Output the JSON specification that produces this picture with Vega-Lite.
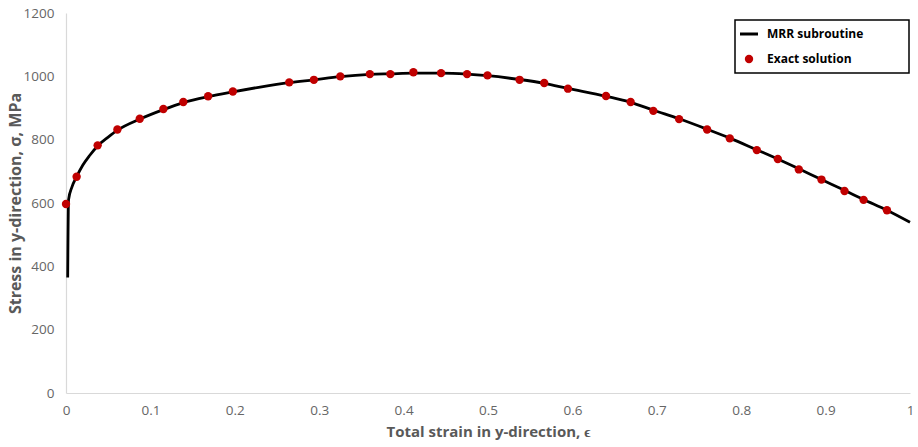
{
  "$schema": "https://vega.github.io/schema/vega-lite/v6.json",
  "width": 844,
  "height": 380,
  "autosize": {"type": "none"},
  "padding": {"left": 66, "top": 13, "right": 8, "bottom": 54},
  "background": "white",
  "config": {
    "view": {"stroke": null},
    "font": "Open Sans",
    "axis": {
      "grid": false,
      "ticks": false,
      "domainColor": "#d9d9d9",
      "domainWidth": 1.2,
      "labelColor": "#666666",
      "labelFontSize": 13.5,
      "labelFont": "Open Sans",
      "labelFlush": false,
      "titleColor": "#595959",
      "titleFont": "Open Sans",
      "titleFontSize": 15,
      "titleFontWeight": "bold"
    },
    "legend": {
      "orient": "none",
      "legendX": 669,
      "legendY": 7,
      "strokeColor": "#000000",
      "padding": 8,
      "rowPadding": 13,
      "labelFont": "Open Sans",
      "labelFontSize": 12,
      "labelFontWeight": "bold",
      "labelColor": "#000000",
      "labelOffset": 12,
      "labelLimit": 300,
      "symbolSize": 70,
      "symbolStrokeWidth": 2.8,
      "symbolOpacity": 1
    }
  },
  "datasets": {
    "mrr": [
      {"strain": 0.002, "stress": 365, "series": "MRR subroutine"},
      {"strain": 0.003, "stress": 610, "series": "MRR subroutine"},
      {"strain": 0.007, "stress": 650, "series": "MRR subroutine"},
      {"strain": 0.0126, "stress": 683, "series": "MRR subroutine"},
      {"strain": 0.02, "stress": 720, "series": "MRR subroutine"},
      {"strain": 0.028, "stress": 750, "series": "MRR subroutine"},
      {"strain": 0.0375, "stress": 780, "series": "MRR subroutine"},
      {"strain": 0.05, "stress": 808, "series": "MRR subroutine"},
      {"strain": 0.061, "stress": 830, "series": "MRR subroutine"},
      {"strain": 0.0874, "stress": 865, "series": "MRR subroutine"},
      {"strain": 0.1154, "stress": 895, "series": "MRR subroutine"},
      {"strain": 0.139, "stress": 917, "series": "MRR subroutine"},
      {"strain": 0.1684, "stress": 936, "series": "MRR subroutine"},
      {"strain": 0.1977, "stress": 951, "series": "MRR subroutine"},
      {"strain": 0.23, "stress": 966, "series": "MRR subroutine"},
      {"strain": 0.2645, "stress": 980, "series": "MRR subroutine"},
      {"strain": 0.2937, "stress": 989, "series": "MRR subroutine"},
      {"strain": 0.325, "stress": 999, "series": "MRR subroutine"},
      {"strain": 0.36, "stress": 1006, "series": "MRR subroutine"},
      {"strain": 0.3843, "stress": 1008, "series": "MRR subroutine"},
      {"strain": 0.4116, "stress": 1010, "series": "MRR subroutine"},
      {"strain": 0.4444, "stress": 1010, "series": "MRR subroutine"},
      {"strain": 0.4752, "stress": 1007, "series": "MRR subroutine"},
      {"strain": 0.4994, "stress": 1002, "series": "MRR subroutine"},
      {"strain": 0.5374, "stress": 990, "series": "MRR subroutine"},
      {"strain": 0.5666, "stress": 978, "series": "MRR subroutine"},
      {"strain": 0.5947, "stress": 962, "series": "MRR subroutine"},
      {"strain": 0.6398, "stress": 937, "series": "MRR subroutine"},
      {"strain": 0.669, "stress": 918, "series": "MRR subroutine"},
      {"strain": 0.6959, "stress": 893, "series": "MRR subroutine"},
      {"strain": 0.7264, "stress": 866, "series": "MRR subroutine"},
      {"strain": 0.7596, "stress": 833, "series": "MRR subroutine"},
      {"strain": 0.7865, "stress": 805, "series": "MRR subroutine"},
      {"strain": 0.8185, "stress": 768, "series": "MRR subroutine"},
      {"strain": 0.8434, "stress": 739, "series": "MRR subroutine"},
      {"strain": 0.8683, "stress": 708, "series": "MRR subroutine"},
      {"strain": 0.8951, "stress": 674, "series": "MRR subroutine"},
      {"strain": 0.9224, "stress": 640, "series": "MRR subroutine"},
      {"strain": 0.945, "stress": 611, "series": "MRR subroutine"},
      {"strain": 0.9727, "stress": 577, "series": "MRR subroutine"},
      {"strain": 1.0, "stress": 539, "series": "MRR subroutine"}
    ],
    "exact": [
      {"strain": 0.0, "stress": 597, "series": "Exact solution"},
      {"strain": 0.0126, "stress": 683, "series": "Exact solution"},
      {"strain": 0.0375, "stress": 782, "series": "Exact solution"},
      {"strain": 0.0609, "stress": 832, "series": "Exact solution"},
      {"strain": 0.0874, "stress": 866, "series": "Exact solution"},
      {"strain": 0.1154, "stress": 897, "series": "Exact solution"},
      {"strain": 0.139, "stress": 919, "series": "Exact solution"},
      {"strain": 0.1684, "stress": 937, "series": "Exact solution"},
      {"strain": 0.1977, "stress": 952, "series": "Exact solution"},
      {"strain": 0.2645, "stress": 981, "series": "Exact solution"},
      {"strain": 0.2937, "stress": 989, "series": "Exact solution"},
      {"strain": 0.325, "stress": 1000, "series": "Exact solution"},
      {"strain": 0.36, "stress": 1007, "series": "Exact solution"},
      {"strain": 0.3843, "stress": 1007, "series": "Exact solution"},
      {"strain": 0.4116, "stress": 1013, "series": "Exact solution"},
      {"strain": 0.4444, "stress": 1010, "series": "Exact solution"},
      {"strain": 0.4752, "stress": 1007, "series": "Exact solution"},
      {"strain": 0.4994, "stress": 1003, "series": "Exact solution"},
      {"strain": 0.5374, "stress": 989, "series": "Exact solution"},
      {"strain": 0.5666, "stress": 979, "series": "Exact solution"},
      {"strain": 0.5947, "stress": 961, "series": "Exact solution"},
      {"strain": 0.6398, "stress": 938, "series": "Exact solution"},
      {"strain": 0.669, "stress": 919, "series": "Exact solution"},
      {"strain": 0.6959, "stress": 891, "series": "Exact solution"},
      {"strain": 0.7264, "stress": 865, "series": "Exact solution"},
      {"strain": 0.7596, "stress": 832, "series": "Exact solution"},
      {"strain": 0.7865, "stress": 804, "series": "Exact solution"},
      {"strain": 0.8185, "stress": 767, "series": "Exact solution"},
      {"strain": 0.8434, "stress": 739, "series": "Exact solution"},
      {"strain": 0.8683, "stress": 706, "series": "Exact solution"},
      {"strain": 0.8951, "stress": 674, "series": "Exact solution"},
      {"strain": 0.9224, "stress": 638, "series": "Exact solution"},
      {"strain": 0.945, "stress": 610, "series": "Exact solution"},
      {"strain": 0.9727, "stress": 577, "series": "Exact solution"}
    ]
  },
  "encoding": {
    "x": {
      "field": "strain",
      "type": "quantitative",
      "scale": {"domain": [0, 1], "nice": false},
      "axis": {"values": [0, 0.1, 0.2, 0.3, 0.4, 0.5, 0.6, 0.7, 0.8, 0.9, 1], "format": "~g", "labelPadding": 10, "title": "Total strain in y-direction, ϵ", "titlePadding": 8}
    },
    "y": {
      "field": "stress",
      "type": "quantitative",
      "scale": {"domain": [0, 1200], "nice": false},
      "axis": {"values": [0, 200, 400, 600, 800, 1000, 1200], "format": "d", "labelPadding": 12, "title": "Stress in y-direction, σ, MPa", "titleFontSize": 16, "titlePadding": 0}
    },
    "color": {
      "field": "series",
      "type": "nominal",
      "scale": {"domain": ["MRR subroutine", "Exact solution"], "range": ["#000000", "#C00000"]},
      "legend": {
        "title": "\u00a0",
        "titleOrient": "right",
        "titlePadding": 38,
        "titleFontSize": 6,
        "encode": {
          "legend": {"update": {"strokeWidth": {"value": 1.5}}},
          "symbols": {
            "update": {
              "stroke": {"scale": "color", "field": "value"},
              "size": {"signal": "datum.value === 'MRR subroutine' ? 324 : 70"},
              "strokeWidth": {"signal": "datum.value === 'MRR subroutine' ? 3 : 0"}
            }
          }
        }
      }
    }
  },
  "layer": [
    {
      "data": {"name": "mrr"},
      "mark": {"type": "line", "strokeWidth": 2.8, "interpolate": "monotone"}
    },
    {
      "data": {"name": "exact"},
      "mark": {"type": "point", "filled": true, "size": 70, "opacity": 1},
      "encoding": {
        "shape": {
          "field": "series",
          "type": "nominal",
          "scale": {"domain": ["MRR subroutine", "Exact solution"], "range": ["stroke", "circle"]}
        }
      }
    }
  ]
}
